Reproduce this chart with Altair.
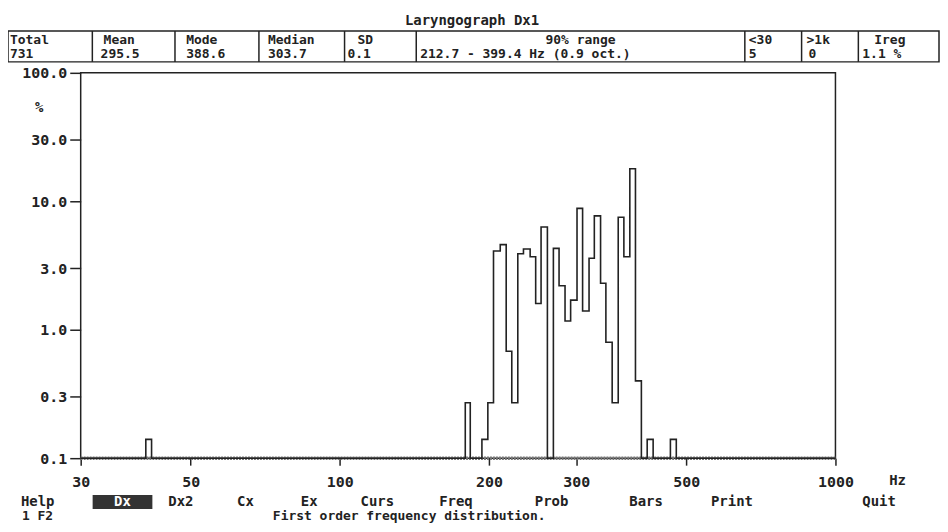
import altair as alt
import pandas as pd

# ---------------- data ----------------
# histogram bin edges (Hz) and percentage of each bin (0.1 = floor of the plot)
edges_hz = [30, 40.6, 41.7, 179.1, 183.3, 193.5, 198.9, 204.2, 210.7, 216.6,
            222.3, 228.6, 234.7, 242.1, 248.4, 254.7, 262.3, 269.7, 276.9,
            284.7, 292.2, 301.0, 308.9, 318.3, 326.2, 335.8, 344.2, 354.4,
            364.5, 374.2, 384.7, 394.9, 405.9, 417.0, 428.7, 464.5, 477.4, 1000]
pct = [0.1, 0.14, 0.1, 0.27, 0.1, 0.14, 0.27, 4.1, 4.6, 0.68,
       0.27, 3.9, 4.25, 3.7, 1.6, 6.3, 0.1, 4.3, 2.2,
       1.17, 1.7, 8.8, 1.4, 3.6, 7.7, 2.3, 0.8, 0.27,
       7.5, 3.7, 17.9, 0.4, 0.1, 0.14, 0.1, 0.14, 0.1]

x_ticks = [30, 50, 100, 200, 300, 500, 1000]
y_ticks = [0.1, 0.3, 1, 3, 10, 30, 100]

title_text = "Laryngograph Dx1"
head_labels = ["Total", "Mean", "Mode", "Median", "SD", "90% range", "<30", ">1k", "Ireg"]
head_values = ["731", "295.5", "388.6", "303.7", "0.1",
               "212.7 - 399.4 Hz (0.9 oct.)", "5", "0", "1.1 %"]
menu_items = ["Help", "Dx", "Dx2", "Cx", "Ex", "Curs", "Freq", "Prob", "Bars", "Print", "Quit"]
status_left = "1 F2"
status_text = "First order frequency distribution."

# ---------------- layout (pixels, relative to plot origin) ----------------
FONT = "DejaVu Sans Mono"
INK = "#222222"
W, H = 758, 387

head_label_x = [-71, 23, 106, 188, 278, 502, 671, 729, 797]
head_label_align = ["left"] * 5 + ["center"] + ["left"] * 3
head_value_x = [-71, 20, 106, 188, 268, 341, 671, 731, 785]
sep_x = [11.7, 94.7, 179, 265, 337, 667, 724, 781]
menu_x = [-60, 42, 88, 157, 221, 281, 360, 456, 551, 633, 785]
menu_align = ["left", "center"] + ["left"] * 9

one = alt.Data(values=[{}])


def txt(s, x, y, align="left", color=INK, size=14):
    return alt.Chart(one).mark_text(
        text=s, align=align, baseline="middle", font=FONT, fontWeight="bold",
        fontSize=size, color=color
    ).encode(x=alt.value(x), y=alt.value(y))


def rule(x1, x2, y1, y2, color=INK, width=1.5, dash=None):
    kw = dict(color=color, strokeWidth=width)
    if dash:
        kw["strokeDash"] = dash
    return alt.Chart(one).mark_rule(**kw).encode(
        x=alt.value(x1), x2=alt.value(x2), y=alt.value(y1), y2=alt.value(y2))


hist = pd.DataFrame({"hz": edges_hz, "pct": pct + [pct[-1]]})

line = alt.Chart(hist).mark_line(
    interpolate="step-after", color=INK, strokeWidth=1.6
).encode(
    x=alt.X("hz:Q",
            scale=alt.Scale(type="log", domain=[30, 1000], nice=False),
            axis=alt.Axis(values=x_ticks, format="d", title=None, grid=False,
                          domain=False, tickSize=7, tickWidth=1.5, tickColor=INK,
                          labelPadding=9, labelFont=FONT, labelFontWeight="bold",
                          labelFontSize=15, labelColor=INK, labelFlush=False)),
    y=alt.Y("pct:Q",
            scale=alt.Scale(type="log", domain=[0.1, 100], nice=False),
            axis=alt.Axis(values=y_ticks, format=".1f", title=None, grid=False,
                          domain=False, tickSize=11, tickWidth=1.5, tickColor=INK,
                          labelPadding=3, labelFont=FONT, labelFontWeight="bold",
                          labelFontSize=15, labelColor=INK, labelFlush=False)),
)

layers = []
# thick dotted baseline
layers.append(rule(0, W, H, H, color="#777777", width=3.5, dash=[2, 1]))
layers.append(line)

# title and header table
layers.append(txt(title_text, 393, -52, align="center"))
layers.append(alt.Chart(one).mark_rect(filled=False, stroke=INK, strokeWidth=1.5).encode(
    x=alt.value(-73), x2=alt.value(862), y=alt.value(-42), y2=alt.value(-11)))
for sx in sep_x:
    layers.append(rule(sx, sx, -42, -11))
for lab, v, lx, vx, al in zip(head_labels, head_values, head_label_x, head_value_x, head_label_align):
    layers.append(txt(lab, lx, -33, align=al, size=13))
    layers.append(txt(v, vx, -19, size=13))

# axis unit labels
layers.append(txt("%", -46, 35))
layers.append(txt("Hz", 812, 410))

# bottom menu
layers.append(alt.Chart(one).mark_rect(color="#333333").encode(
    x=alt.value(12), x2=alt.value(72), y=alt.value(424), y2=alt.value(438)))
for item, mx, al in zip(menu_items, menu_x, menu_align):
    col = "white" if item == "Dx" else INK
    layers.append(txt(item, mx, 431, align=al, color=col))
layers.append(txt(status_left, -59, 445, size=13))
layers.append(txt(status_text, 193, 445, size=13))

chart = alt.layer(*layers).properties(
    width=W, height=H,
    autosize=alt.AutoSizeParams(type="none"),
    padding={"left": 73, "top": 64, "right": 105, "bottom": 65},
    background="white",
).configure_view(stroke=INK, strokeWidth=1.5)

chart.save("out.html", embed_options={"renderer": "svg", "actions": False})
